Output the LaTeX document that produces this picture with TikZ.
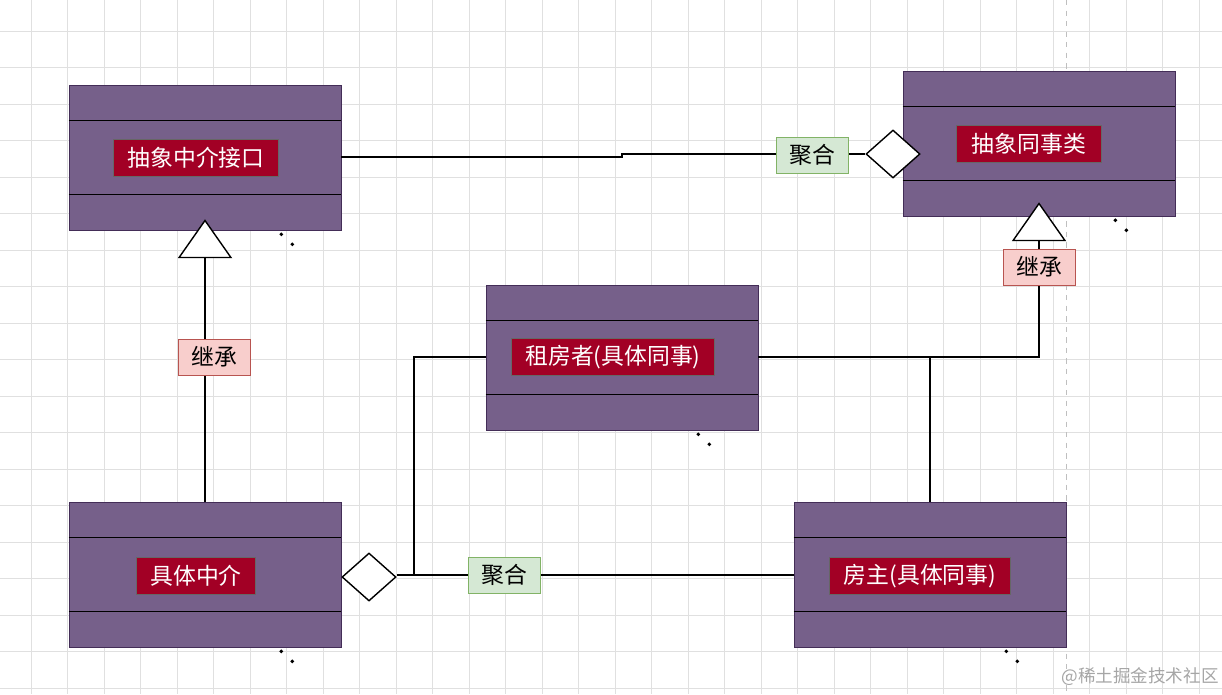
\documentclass[tikz,border=0pt]{standalone}
\usepackage{fontspec}
\setmainfont{Noto Sans CJK SC}
\usetikzlibrary{shapes.geometric}
\definecolor{cls}{HTML}{76608A}
\definecolor{clsd}{HTML}{432D57}
\definecolor{lab}{HTML}{A20025}
\definecolor{agg}{HTML}{D5E8D4}
\definecolor{aggd}{HTML}{82B366}
\definecolor{inh}{HTML}{F8CECC}
\definecolor{inhd}{HTML}{B85450}
\begin{document}
\begin{tikzpicture}[x=0.02cm,y=-0.02cm,
 cls/.style={draw=clsd,fill=cls,minimum width=5.44cm,minimum height=2.9cm,inner sep=0},
 tag/.style={draw=black!60,fill=lab,text=white,font=\fontsize{13pt}{13pt}\selectfont,minimum height=0.74cm,inner xsep=8pt},
 aggl/.style={draw=aggd,fill=agg,font=\fontsize{13pt}{13pt}\selectfont,minimum width=1.44cm,minimum height=0.72cm,inner sep=0},
 inhl/.style={draw=inhd,fill=inh,font=\fontsize{13pt}{13pt}\selectfont,minimum width=1.44cm,minimum height=0.72cm,inner sep=0},
 dia/.style={diamond,draw=black,fill=white,thick,minimum width=1.08cm,minimum height=0.96cm,inner sep=0,aspect=1.1},
 tri/.style={isosceles triangle,isosceles triangle apex angle=70,shape border rotate=90,draw=black,fill=white,thick,minimum height=0.74cm,inner sep=0},
 ln/.style={thick},
 dot/.style={fill=black,circle,inner sep=0.8pt}]
\useasboundingbox (0,0) rectangle (1222,694);
\fill[white] (0,0) rectangle (1222,694);
\foreach \i in {0,...,34}{\draw[black!12] (31+\i*36.5,0) -- (31+\i*36.5,694);}
\foreach \i in {0,...,19}{\draw[black!12] (0,31+\i*36.5) -- (1222,31+\i*36.5);}
\draw[black!25,dashed] (1066,0) -- (1066,694);
% classes
\foreach \n/\x/\y in {A/205/157.5,B/1039/143.5,C/622/357.5,D/205/574.5,E/930/574.5}{
 \node[cls] (\n) at (\x,\y) {};
 \draw[thick] ([yshift=-0.72cm]\n.north west) -- ([yshift=-0.72cm]\n.north east);
 \draw[thick] ([yshift=0.72cm]\n.south west) -- ([yshift=0.72cm]\n.south east);
 \node[dot] (\n d1) at ([xshift=-1.2cm,yshift=-0.08cm]\n.south east) {};
 \node[dot] (\n d2) at ([xshift=-0.98cm,yshift=-0.28cm]\n.south east) {};
}
\node[tag,minimum width=3.3cm] (tA) at (196,158) {抽象中介接口};
\node[tag,minimum width=2.9cm] (tB) at (1029,144) {抽象同事类};
\node[tag,minimum width=4cm] (tC) at (613,357) {租房者(具体同事)};
\node[tag,minimum width=2.2cm] (tD) at (196,576) {具体中介};
\node[tag,minimum width=3.6cm] (tE) at (920,576) {房主(具体同事)};
% A - B aggregation
\node[dia] (dB) at (893,154) {};
\coordinate (k1) at (622,157);
\draw[ln] (A.east|-k1) -- (k1) -- (622,154) -- (dB.west);
\node[aggl] (gB) at (812,155) {聚合};
% inheritance D -> A
\node[tri] (tr1) at (205,244) {};
\draw[ln] (D.north-|tr1) -- (tr1.south);
\node[inhl] (i1) at (214,357) {继承};
% inheritance C,E -> B
\node[tri] (tr2) at (1039,227) {};
\coordinate (j) at (1039,357);
\draw[ln] (C.east|-j) -- (j) -- (tr2.south);
\coordinate (e1) at (930,357);
\draw[ln] (E.north-|e1) -- (e1);
\node[inhl] (i2) at (1039,267) {继承};
% D aggregation
\node[dia] (dD) at (369,577) {};
\coordinate (m) at (414,575);
\draw[ln] (dD.east|-m) -- (m) -- (414,357) -- (C.west|-j);
\draw[ln] (m) -- (E.west|-m);
\node[aggl] (gD) at (504,575) {聚合};
\node[text=black!35,font=\fontsize{10pt}{10pt}\selectfont] (wm) at (1140,677) {@稀土掘金技术社区};
\end{tikzpicture}
\end{document}
